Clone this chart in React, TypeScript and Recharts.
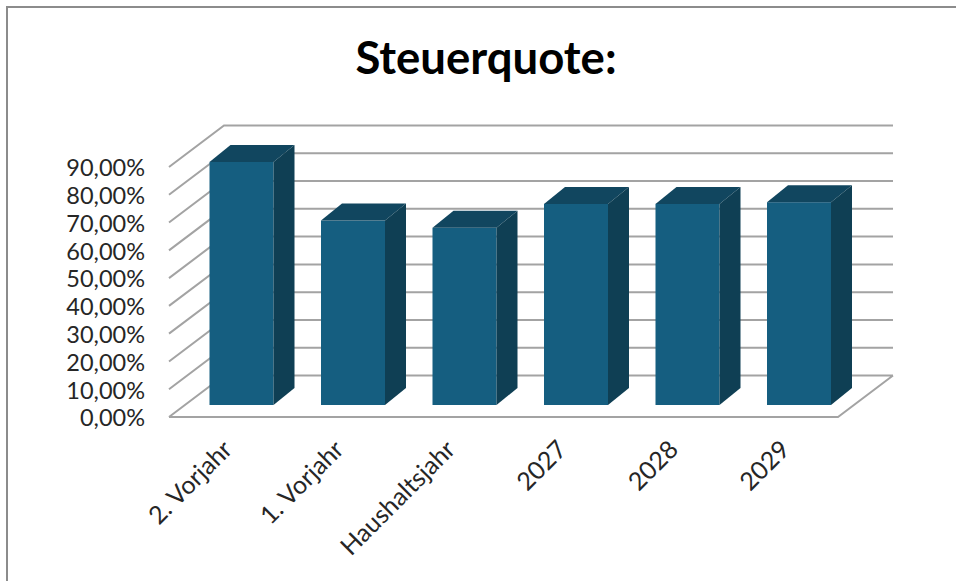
import { Bar, BarChart, CartesianGrid, XAxis, YAxis } from "recharts";

const CATEGORIES = ["2. Vorjahr", "1. Vorjahr", "Haushaltsjahr", "2027", "2028", "2029"];
const QUOTE = [87.5, 66.4, 63.8, 72.4, 72.4, 73];
const TICKS = [0, 10, 20, 30, 40, 50, 60, 70, 80, 90];

const FONT = "Lato, sans-serif";
const INK = "#262626";
const GRID = "#a3a3a3";
const FRONT = "#155e80";
const SIDE = "#0f3f54";
const TOP = "#11465f";

// depth of the floor and of the bars, the 3D look is drawn by hand
const WALL_DX = 55;
const WALL_DY = -41.5;
const BAR_DX = 21;
const BAR_DY = -17;
const BAR_SHIFT_X = 16.5;
const BAR_SHIFT_Y = -12;

const data = CATEGORIES.map((name, i) => ({ name, value: QUOTE[i] }));

function GridLine({ x1, y1, x2, y2, index }: any) {
  const wall = `M${x1},${y1}L${x1 + WALL_DX},${y1 + WALL_DY}L${x2 + WALL_DX},${y2 + WALL_DY}`;
  const isFloor = Math.round(y1) === 417;
  const floor = isFloor ? `M${x1},${y1}L${x2},${y2}L${x2 + WALL_DX},${y2 + WALL_DY}` : "";
  return <path key={index} d={wall + floor} fill="none" stroke={GRID} strokeWidth={2} />;
}

function Bar3D({ x, y, width, height }: any) {
  const left = x + BAR_SHIFT_X;
  const top = y + BAR_SHIFT_Y;
  const right = left + width;
  const bottom = top + height;
  return (
    <g>
      <rect x={left} y={top} width={width} height={height} fill={FRONT} />
      <path
        d={`M${left},${top}L${left + BAR_DX},${top + BAR_DY}L${right + BAR_DX},${top + BAR_DY}L${right},${top}Z`}
        fill={TOP}
      />
      <path
        d={`M${right},${top}L${right + BAR_DX},${top + BAR_DY}L${right + BAR_DX},${bottom + BAR_DY}L${right},${bottom}Z`}
        fill={SIDE}
      />
    </g>
  );
}

function RotatedTick({ x, payload }: any) {
  return (
    <text
      transform={`translate(${x + 9},451) rotate(-45)`}
      textAnchor="end"
      fontFamily={FONT}
      fontSize={25}
      fill={INK}
    >
      {payload.value}
    </text>
  );
}

export default function App() {
  return (
    <div style={{ position: "absolute", left: 0, top: 0, width: 956, height: 581, background: "#fff", overflow: "hidden" }}>
      <div style={{ position: "absolute", left: 6, top: 6, width: 960, height: 590, borderLeft: "2px solid #8c8c8c", borderTop: "2px solid #8c8c8c" }} />
      <div
        style={{
          position: "absolute",
          left: 0,
          width: 972,
          top: 34,
          textAlign: "center",
          fontFamily: FONT,
          fontWeight: 700,
          fontSize: 45.5,
          lineHeight: "46px",
          color: "#000",
        }}
      >
        Steuerquote:
      </div>
      <div style={{ position: "absolute", left: 0, top: 0 }}>
        <BarChart
          width={956}
          height={581}
          data={data}
          barSize={64}
          margin={{ top: 167, right: 118, bottom: 4, left: 0 }}
        >
          <CartesianGrid vertical={false} horizontal={(p: any) => <GridLine {...p} />} />
          <XAxis dataKey="name" axisLine={false} tickLine={false} interval={0} height={160} tick={<RotatedTick />} />
          <YAxis
            width={169}
            domain={[0, 90]}
            ticks={TICKS}
            interval={0}
            axisLine={false}
            tickLine={false}
            tickMargin={18}
            tick={{ fill: INK, fontSize: 23.5, fontFamily: FONT, dy: 1 }}
            tickFormatter={(v: number) => `${v},00%`}
          />
          <Bar dataKey="value" shape={<Bar3D />} isAnimationActive={false} />
        </BarChart>
      </div>
    </div>
  );
}
